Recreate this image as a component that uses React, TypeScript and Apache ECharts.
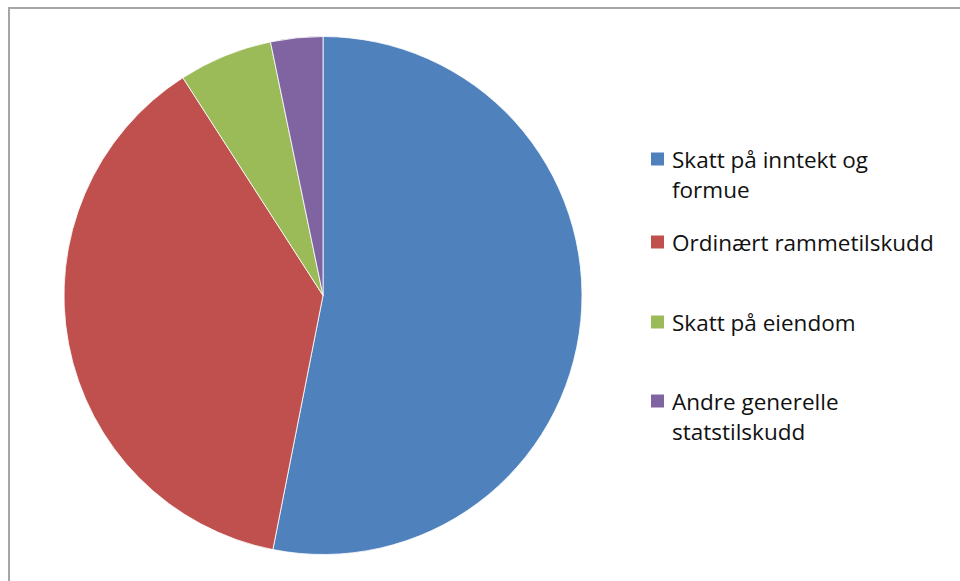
import React, { useEffect, useRef } from "react";
import * as echarts from "echarts";

const categories = [
  "Skatt på inntekt og\nformue",
  "Ordinært rammetilskudd",
  "Skatt på eiendom",
  "Andre generelle\nstatstilskudd",
];
const values = [53.1, 37.8, 5.85, 3.25];
const colors = ["#4f81bd", "#c0504d", "#9bbb59", "#8064a2"];
const legendCenters = [159, 242, 322, 401];

export default function App() {
  const ref = useRef<HTMLDivElement>(null);
  useEffect(() => {
    if (!ref.current) return;
    const chart = echarts.init(ref.current, undefined, { renderer: "svg" });
    const font = "'Open Sans', Lato, sans-serif";
    const legendGraphics: any[] = [];
    categories.forEach((name, i) => {
      legendGraphics.push({
        type: "rect",
        shape: { x: 651, y: legendCenters[i] - 6.5, width: 13, height: 13 },
        style: { fill: colors[i] },
        silent: true,
      });
      legendGraphics.push({
        type: "text",
        x: 672,
        y: legendCenters[i] - 15,
        style: {
          text: name,
          fill: "#111111",
          font: `500 22.5px ${font}`,
          fontSize: 22.5,
          fontWeight: 500,
          fontFamily: font,
          lineHeight: 30,
          verticalAlign: "top",
          align: "left",
        },
        silent: true,
      });
    });
    chart.setOption({
      animation: false,
      backgroundColor: "#ffffff",
      graphic: [
        {
          type: "rect",
          shape: { x: 9, y: 8, width: 1000, height: 1000 },
          style: { fill: "none", stroke: "#a6a6a6", lineWidth: 2 },
          silent: true,
        },
        ...legendGraphics,
      ],
      series: [
        {
          type: "pie",
          center: [323, 295.5],
          radius: [0, 259],
          startAngle: 90,
          clockwise: true,
          label: { show: false },
          labelLine: { show: false },
          itemStyle: { borderColor: "#ffffff", borderWidth: 0.8 },
          emphasis: { disabled: true },
          data: categories.map((name, i) => ({
            name,
            value: values[i],
            itemStyle: { color: colors[i] },
          })),
        },
      ],
    });
    return () => chart.dispose();
  }, []);
  return (
    <div
      ref={ref}
      style={{ position: "fixed", left: 0, top: 0, width: 960, height: 581 }}
    />
  );
}
